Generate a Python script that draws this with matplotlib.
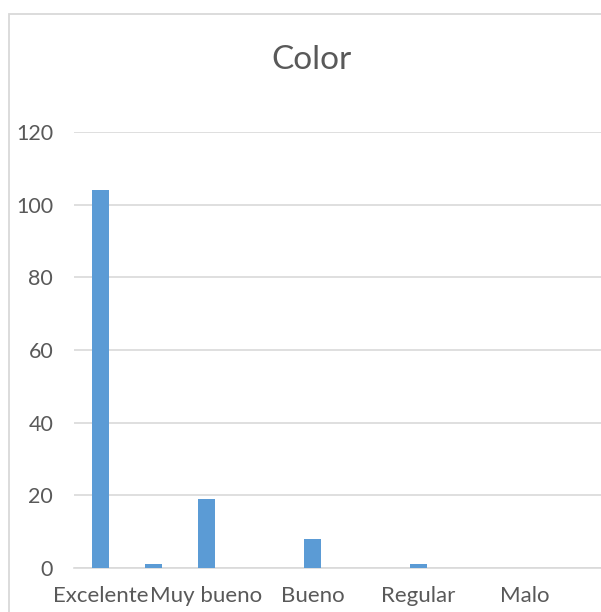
import matplotlib
matplotlib.use("Agg")
import matplotlib.pyplot as plt
from matplotlib.patches import Rectangle

# Excel only printed every other category label; the hidden ones are left blank
categories = ["Excelente", "", "Muy bueno", "", "Bueno", "", "Regular", "", "Malo", ""]
counts = [104, 1, 19, 0, 8, 0, 1, 0, 0, 0]
y_ticks = [0, 20, 40, 60, 80, 100, 120]

BAR_COLOR = "#5B9BD5"
TEXT_COLOR = "#595959"
GRID_COLOR = "#D9D9D9"

W, H = 601, 612
plt.rcParams["font.family"] = ["Lato", "DejaVu Sans"]

fig = plt.figure(figsize=(W / 100, H / 100), dpi=100)

# outer chart frame (cropped on the right and bottom in the reference)
fig.patches.append(Rectangle((9 / W, -0.1), 1.2, (H - 14) / H + 0.1,
                             transform=fig.transFigure, fill=False,
                             edgecolor=GRID_COLOR, linewidth=1.3))

left, right, top, bottom = 74, 604, 132, 568
ax = fig.add_axes([left / W, (H - bottom) / H, (right - left) / W, (bottom - top) / H])

x = range(len(categories))
ax.bar(x, counts, width=0.31, color=BAR_COLOR, zorder=3)

ax.set_xlim(-0.5, len(categories) - 0.5)
ax.set_ylim(0, 120)
ax.set_yticks(y_ticks)
ax.set_xticks(list(x))
ax.set_xticklabels(categories)

ax.grid(axis="y", color=GRID_COLOR, linewidth=1.2, zorder=0)
for side in ["left", "right", "top"]:
    ax.spines[side].set_visible(False)
ax.spines["bottom"].set_color(GRID_COLOR)
ax.spines["bottom"].set_linewidth(1.2)

ax.tick_params(axis="both", length=0, labelcolor=TEXT_COLOR)
ax.tick_params(axis="y", pad=15, labelsize=15.5)
ax.tick_params(axis="x", pad=13, labelsize=16)

fig.text(311.5 / W, 1 - 60 / H, "Color", ha="center", va="center",
         fontsize=24, color=TEXT_COLOR)

fig.savefig("out.png", dpi=100)
